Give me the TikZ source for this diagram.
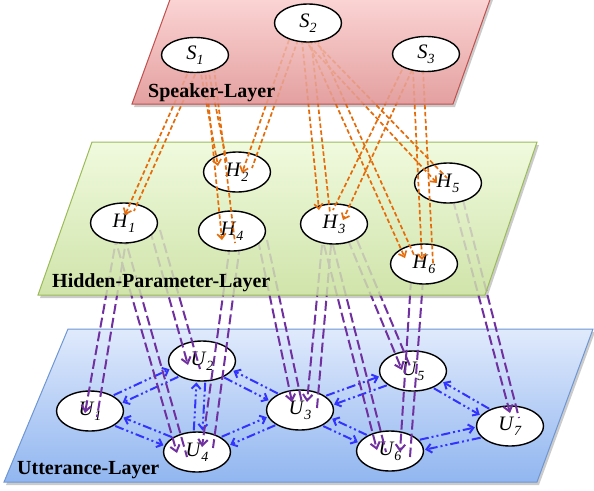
\documentclass[tikz,border=0pt]{standalone}
\usepackage{fontspec}
\setmainfont{Liberation Serif}
\usetikzlibrary{shapes.geometric,arrows.meta,calc}
\definecolor{orangeL}{RGB}{228,108,10}
\definecolor{purpleL}{RGB}{112,48,160}
\definecolor{blueL}{RGB}{51,51,255}
\definecolor{Stop}{RGB}{252,214,214}
\definecolor{Sbot}{RGB}{228,160,160}
\definecolor{Sedge}{RGB}{192,80,77}
\definecolor{Htop}{RGB}{240,250,222}
\definecolor{Hbot}{RGB}{208,228,170}
\definecolor{Hedge}{RGB}{155,187,89}
\definecolor{Utop}{RGB}{224,234,252}
\definecolor{Ubot}{RGB}{145,182,240}
\definecolor{Uedge}{RGB}{110,150,210}
\newcommand\nlab[2]{\textit{#1}\raisebox{-5pt}{\fontsize{14}{14}\selectfont\textit{#2}}}
\begin{document}
\begin{tikzpicture}[x=1pt,y=-1pt,
  nd/.style={ellipse, draw=black, line width=1.4pt, fill=white, minimum width=67pt, minimum height=40pt, inner sep=0pt, font=\fontsize{20.5}{24}\selectfont},
  oline/.style={draw=orangeL, line width=1.7pt, dash pattern=on 4.5pt off 2.5pt},
  oarr/.style={oline, -{Straight Barb[length=5pt,width=8.5pt]}},
  pline/.style={draw=purpleL, line width=2pt, dash pattern=on 10pt off 4pt},
  parr/.style={pline, -{Straight Barb[length=6pt,width=9.5pt]}},
  barr/.style={draw=blueL, line width=2pt, dash pattern=on 9pt off 3pt on 2pt off 3pt on 2pt off 3pt, -{Straight Barb[length=5pt,width=9pt]}, shorten <=1pt, shorten >=1pt},
  lay/.style={font=\fontsize{20}{24}\selectfont\bfseries, anchor=base west, inner sep=0pt},
  shadow/.style={fill=black!45, opacity=0.45}
]
\useasboundingbox (0,0) rectangle (594,490);
% plane corners
\coordinate (SA) at (132,104); \coordinate (SB) at (453,104); \coordinate (SC) at (492,-6); \coordinate (SD) at (172,-6);
\coordinate (HA) at (38,295); \coordinate (HB) at (485,295); \coordinate (HC) at (537,142); \coordinate (HD) at (92,142);
\coordinate (UA) at (4,482); \coordinate (UB) at (537,482); \coordinate (UC) at (593,329); \coordinate (UD) at (68,329);
% shadows
\fill[shadow] ([shift={(2,3)}]SA) -- ([shift={(2,3)}]SB) -- ([shift={(2,3)}]SC) -- ([shift={(2,3)}]SD) -- cycle;
\fill[shadow] ([shift={(2,3)}]HA) -- ([shift={(2,3)}]HB) -- ([shift={(2,3)}]HC) -- ([shift={(2,3)}]HD) -- cycle;
\fill[shadow] ([shift={(2,3)}]UA) -- ([shift={(2,3)}]UB) -- ([shift={(2,3)}]UC) -- ([shift={(2,3)}]UD) -- cycle;
% opaque planes
\shade[top color=Stop, bottom color=Sbot] (SA) -- (SB) -- (SC) -- (SD) -- cycle;
\shade[top color=Htop, bottom color=Hbot] (HA) -- (HB) -- (HC) -- (HD) -- cycle;
\shade[top color=Utop, bottom color=Ubot] (UA) -- (UB) -- (UC) -- (UD) -- cycle;
\draw[Uedge, line width=1pt] (UA) -- (UB) -- (UC) -- (UD) -- cycle;
% utterance nodes
\node[nd] (U1) at (90,411) {\nlab{U}{1}};
\node[nd] (U2) at (202,361) {\nlab{U}{2}};
\node[nd] (U3) at (300,410) {\nlab{U}{3}};
\node[nd] (U4) at (197,452) {\nlab{U}{4}};
\node[nd] (U5) at (413,371) {\nlab{U}{5}};
\node[nd] (U6) at (390,451) {\nlab{U}{6}};
\node[nd] (U7) at (510,426) {\nlab{U}{7}};
% blue links
\draw[barr] (U1.34) -- (U2.194);
\draw[barr] (U2.214) -- (U1.14);
\draw[barr] (U4.149) -- (U1.-11);
\draw[barr] (U1.-31) -- (U4.169);
\draw[barr] (U2.-81) -- (U4.75);
\draw[barr] (U4.99) -- (U2.-105);
\draw[barr] (U3.143) -- (U2.-17);
\draw[barr] (U2.-37) -- (U3.163);
\draw[barr] (U4.32) -- (U3.192);
\draw[barr] (U3.212) -- (U4.12);
\draw[barr] (U3.29) -- (U5.189);
\draw[barr] (U5.209) -- (U3.9);
\draw[barr] (U6.145) -- (U3.-15);
\draw[barr] (U3.-35) -- (U6.165);
\draw[barr] (U7.140) -- (U5.-20);
\draw[barr] (U5.-40) -- (U7.160);
\draw[barr] (U6.21) -- (U7.182);
\draw[barr] (U7.202) -- (U6.2);
% hidden node positions
\coordinate (H1) at (124,223); \coordinate (H2) at (237,172); \coordinate (H3) at (334,224);
\coordinate (H4) at (232,231); \coordinate (H5) at (448,183); \coordinate (H6) at (424,264);
% purple links hidden -> utterance
\draw[parr] ($(H1)+(-7,12)$) -- ($(U1)+(-5,2)$);
\draw[pline] ($(H1)+(3,12)$) -- ($(U1)+(7,6)$);
\draw[parr] ($(H1)+(-10,12)$) -- ($(U4)+(-20,1)$);
\draw[pline] ($(H1)+(0,12)$) -- ($(U4)+(-10,5)$);
\draw[parr] ($(H1)+(26,7)$) -- ($(U2)+(-14,4)$);
\draw[pline] ($(H1)+(36,7)$) -- ($(U2)+(-2,8)$);
\draw[parr] ($(H4)+(-2,14)$) -- ($(U4)+(5,-5)$);
\draw[pline] ($(H4)+(8,14)$) -- ($(U4)+(16,-4)$);
\draw[parr] ($(H4)+(26,9)$) -- ($(U3)+(-8,-8)$);
\draw[pline] ($(H4)+(35,9)$) -- ($(U3)+(2,-7)$);
\draw[parr] ($(H3)+(-12,21)$) -- ($(U3)+(7,-8)$);
\draw[pline] ($(H3)+(-3,21)$) -- ($(U3)+(17,-2)$);
\draw[parr] ($(H3)+(-10,21)$) -- ($(U6)+(-13,-1)$);
\draw[pline] ($(H3)+(-1,21)$) -- ($(U6)+(-4,1)$);
\draw[parr] ($(H3)+(14,16)$) -- ($(U5)+(-11,-1)$);
\draw[pline] ($(H3)+(23,16)$) -- ($(U5)+(-3,-5)$);
\draw[parr] ($(H6)+(-13,16)$) -- ($(U6)+(10,1)$);
\draw[pline] ($(H6)+(-1,16)$) -- ($(U6)+(20,6)$);
\draw[parr] ($(H5)+(5,17)$) -- ($(U7)+(0,-13)$);
\draw[pline] ($(H5)+(15,17)$) -- ($(U7)+(9,-8)$);
% translucent hidden plane over purple starts
\shade[top color=Htop, bottom color=Hbot, opacity=0.82] (HA) -- (HB) -- (HC) -- (HD) -- cycle;
\draw[Hedge, line width=1pt] (HA) -- (HB) -- (HC) -- (HD) -- cycle;
% hidden nodes
\node[nd] (h1) at (H1) {\nlab{H}{1}};
\node[nd] (h2) at (H2) {\nlab{H}{2}};
\node[nd] (h3) at (H3) {\nlab{H}{3}};
\node[nd] (h4) at (H4) {\nlab{H}{4}};
\node[nd] (h5) at (H5) {\nlab{H}{5}};
\node[nd] (h6) at (H6) {\nlab{H}{6}};
% speaker positions
\coordinate (S1) at (195,55); \coordinate (S2) at (308,23); \coordinate (S3) at (426,54);
% orange links speaker -> hidden
\draw[oarr] ($(S1)+(-5,13)$) -- ($(h1)+(1,-8)$);
\draw[oline] ($(S1)+(3,13)$) -- ($(h1)+(10,-12)$);
\draw[oarr] ($(S1)+(5,13)$) -- ($(h2)+(-19,-6)$);
\draw[oline] ($(S1)+(13,13)$) -- ($(h2)+(-10,-9)$);
\draw[oarr] ($(S1)+(10,13)$) -- ($(h4)+(-10,9)$);
\draw[oline] ($(S1)+(19,13)$) -- ($(h4)+(3,12)$);
\draw[oarr] ($(S2)+(-19,17)$) -- ($(h2)+(5,1)$);
\draw[oline] ($(S2)+(-10,17)$) -- ($(h2)+(15,-4)$);
\draw[oarr] ($(S2)+(-6,17)$) -- ($(h3)+(-15,-14)$);
\draw[oline] ($(S2)+(3,17)$) -- ($(h3)+(-4,-11)$);
\draw[oarr] ($(S2)+(-4,17)$) -- ($(h5)+(-11,0)$);
\draw[oline] ($(S2)+(5,17)$) -- ($(h5)+(-1,-5)$);
\draw[oarr] ($(S2)+(-1,17)$) -- ($(h6)+(-19,-6)$);
\draw[oline] ($(S2)+(9,17)$) -- ($(h6)+(-10,-9)$);
\draw[oarr] ($(S3)+(-14,16)$) -- ($(h3)+(9,-4)$);
\draw[oline] ($(S3)+(-24,16)$) -- ($(h3)+(-1,-14)$);
\draw[oarr] ($(S3)+(-13,16)$) -- ($(h6)+(-2,-4)$);
\draw[oline] ($(S3)+(-3,16)$) -- ($(h6)+(9,-1)$);
% translucent speaker plane
\shade[top color=Stop, bottom color=Sbot, opacity=0.76] (SA) -- (SB) -- (SC) -- (SD) -- cycle;
\draw[Sedge, line width=1pt] (SA) -- (SB) -- (SC) -- (SD) -- cycle;
% speaker nodes
\node[nd, minimum height=35pt] (s1) at (S1) {\nlab{S}{1}};
\node[nd, minimum height=38pt] (s2) at (S2) {\nlab{S}{2}};
\node[nd, minimum height=35pt] (s3) at (S3) {\nlab{S}{3}};
% layer labels
\node[lay] (lS) at (148,97) {Speaker-Layer};
\node[lay] (lH) at (52,287) {Hidden-Parameter-Layer};
\node[lay] (lU) at (17,474) {Utterance-Layer};
\end{tikzpicture}
\end{document}
